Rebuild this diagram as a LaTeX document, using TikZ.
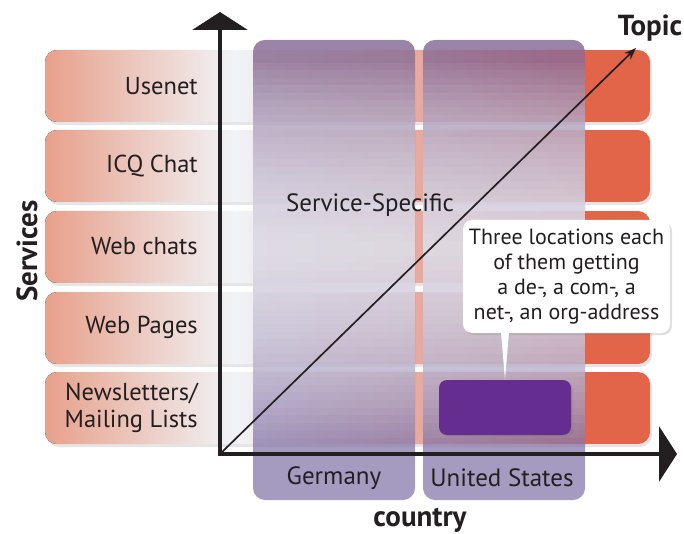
\documentclass[tikz,border=0pt]{standalone}
\usepackage{fontspec}
\setmainfont{PT Sans}
\usetikzlibrary{shadows,arrows.meta,calc}
\definecolor{rowL}{HTML}{E8A08A}
\definecolor{rowM}{HTML}{F1F4F8}
\definecolor{rowR}{HTML}{E2654A}
\definecolor{colbase}{HTML}{8778A9}
\definecolor{coltop}{HTML}{9A6A86}
\definecolor{usbox}{HTML}{652D90}
\definecolor{ink}{HTML}{231F20}
\tikzset{
  rowlabel/.style={anchor=east, align=right, text=ink, font=\fontsize{24.5}{27}\selectfont, inner sep=0pt},
  collabel/.style={text=ink, font=\fontsize{25}{28}\selectfont, inner sep=0pt},
  axislabel/.style={text=ink, font=\bfseries\fontsize{29}{32}\selectfont, inner sep=0pt},
  axisline/.style={draw=ink, line width=4pt, line join=miter},
  colbox/.style={rounded corners=12pt, fill=colbase, fill opacity=0.75},
  colglow/.style={fill=white, fill opacity=0.05},
  coltint/.style={fill=coltop, fill opacity=0.035},
  callbox/.style={fill=white, rounded corners=9pt, minimum width=207pt, minimum height=113pt, align=center, text=ink,
    font=\fontsize{22}{25}\selectfont, inner sep=0pt, drop shadow={opacity=0.25, shadow xshift=2pt, shadow yshift=-2pt}},
  markbox/.style={fill=usbox, rounded corners=8pt, minimum width=132pt, minimum height=55pt, inner sep=0pt,
    drop shadow={opacity=0.3, shadow xshift=2pt, shadow yshift=-2pt}}
}
\begin{document}
\begin{tikzpicture}[x=1pt,y=1pt]
\useasboundingbox (0,0) rectangle (684,533);
% rows
\foreach \yb in {411,331,250,169,89}{
  \fill[black, opacity=0.10, rounded corners=12pt] (47,\yb-3) rectangle (652,\yb+69);
  \begin{scope}
    \clip[rounded corners=12pt] (45,\yb) rectangle (650,\yb+72);
    \fill[left color=rowL, right color=rowM] (45,\yb) rectangle (236,\yb+72);
    \fill[left color=rowM, right color=rowR] (235,\yb) rectangle (586,\yb+72);
    \fill[rowR] (585,\yb) rectangle (650,\yb+72);
  \end{scope}
}
\node[rowlabel] (usenet) at (198,447) {Usenet};
\node[rowlabel] (icq) at (198,367) {ICQ Chat};
\node[rowlabel] (webchats) at (198,287) {Web chats};
\node[rowlabel] (webpages) at (198,206) {Web Pages};
\node[rowlabel] (news) at (198,125) {Newsletters/\\Mailing Lists};
% columns
\foreach \xl in {253,423}{
  \fill[colbox] (\xl,33) rectangle (\xl+162,493);
  \begin{scope}
    \clip[rounded corners=12pt] (\xl,33) rectangle (\xl+162,493);
    \foreach \i in {0,...,11}{
      \fill[coltint] (\xl,{493-14*\i-30}) rectangle (\xl+162,493);
    }
    \foreach \i in {0,...,24}{
      \fill[colglow] (\xl,{285-190*(1-\i/25)}) rectangle (\xl+162,{285+185*(1-\i/25)});
    }
  \end{scope}
}
\node[collabel] (germany) at (334,55) {Germany};
\node[collabel] (usa) at (502,55) {United States};
\node[collabel] (specific) at (370,328) {Service-Specific};
% axes
\coordinate (O) at (220,79);
\coordinate (ytip) at (220,521);
\coordinate (xtip) at (677,79);
\coordinate (ztip) at (636,485);
\draw[axisline, {Triangle[length=18pt,width=55pt]}-{Triangle[length=18pt,width=55pt]}] (ytip) -- (O) -- (xtip);
\draw[draw=ink, line width=1.7pt, -{Stealth[length=12pt,width=9pt]}] (O) -- (ztip);
\node[axislabel] (topic) at (650,505) {Topic};
\node[axislabel, rotate=90] (services) at (27,282) {Services};
\node[axislabel] (country) at (420,13) {country};
% marked cell and note
\node[markbox] (mark) at (505,125.5) {};
\node[callbox] (note) at (566.5,256.5) {Three locations each\\of them getting\\a de-, a com-, a\\net-, an org-address};
\fill[white] ([xshift=-65.5pt,yshift=1pt]note.south) -- (mark.north) -- ([xshift=-57.5pt,yshift=1pt]note.south) -- cycle;
\end{tikzpicture}
\end{document}
